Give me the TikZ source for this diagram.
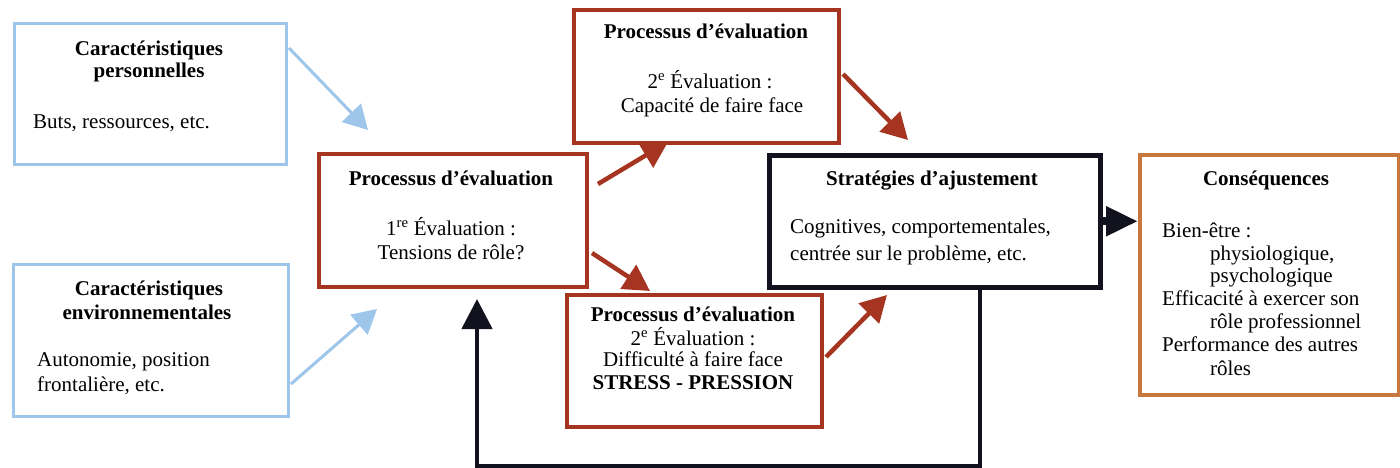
\documentclass[tikz,border=0pt]{standalone}
\usepackage{fontspec}
\setmainfont{Liberation Serif}
\usetikzlibrary{arrows.meta,calc}
\definecolor{boxblue}{RGB}{158,197,234}
\definecolor{boxred}{RGB}{165,52,32}
\definecolor{boxorange}{RGB}{200,120,62}
\definecolor{boxblack}{RGB}{18,18,30}

\begin{document}
\begin{tikzpicture}[x=1pt,y=-1pt,
  box/.style={rectangle, inner sep=0pt, anchor=north west},
  bluebox/.style={box, draw=boxblue, line width=3pt},
  redbox/.style={box, draw=boxred, line width=4pt},
  blackbox/.style={box, draw=boxblack, line width=4.5pt},
  orangebox/.style={box, draw=boxorange, line width=4pt},
  ttl/.style={font=\fontsize{21}{25}\selectfont\bfseries, anchor=base, inner sep=0pt},
  txt/.style={font=\fontsize{21}{25}\selectfont, anchor=base, inner sep=0pt},
  txtl/.style={txt, anchor=base west},
  bluearrow/.style={draw=boxblue, line width=3pt, -{Triangle[length=24pt,width=26pt]}},
  redarrow/.style={draw=boxred, line width=4.5pt, -{Triangle[length=26pt,width=28pt]}},
  blackarrow/.style={draw=boxblack, line width=4.5pt, -{Triangle[length=30pt,width=30pt]}},
]
\useasboundingbox (0,0) rectangle (1400,467);

% boxes
\node[bluebox, minimum width=272pt, minimum height=141pt] (pers) at (13,22) {};
\node[bluebox, minimum width=275pt, minimum height=152pt] (env) at (12,263) {};
\node[redbox, minimum width=268pt, minimum height=133pt] (eval1) at (317,152) {};
\node[redbox, minimum width=265pt, minimum height=133pt] (evalA) at (572,8) {};
\node[redbox, minimum width=255pt, minimum height=132pt] (evalB) at (565,293) {};
\node[blackbox, minimum width=331pt, minimum height=132pt] (strat) at (767,153) {};
\node[orangebox, minimum width=259pt, minimum height=240pt] (cons) at (1138,153) {};

% texts: personal characteristics
\node[ttl] (persT1) at (149,55) {Caractéristiques};
\node[ttl] (persT2) at (149,77) {personnelles};
\node[txtl] (persB) at (33,128) {Buts, ressources, etc.};

% environmental characteristics
\node[ttl] (envT1) at (149,295) {Caractéristiques};
\node[ttl] (envT2) at (147,319) {environnementales};
\node[txtl] (envB1) at (37,366) {Autonomie, position};
\node[txtl] (envB2) at (37,391) {frontalière, etc.};

% primary appraisal
\node[ttl] (e1T) at (451,185) {Processus d’évaluation};
\node[txt] (e1B1) at (451,235) {1\textsuperscript{re} Évaluation :};
\node[txt] (e1B2) at (451,259) {Tensions de rôle?};

% secondary appraisal, coping ability
\node[ttl] (eAT) at (706,38) {Processus d’évaluation};
\node[txt] (eAB1) at (710,88) {2\textsuperscript{e} Évaluation :};
\node[txt] (eAB2) at (712,112) {Capacité de faire face};

% secondary appraisal, difficulty
\node[ttl] (eBT) at (693,321) {Processus d’évaluation};
\node[txt] (eBB1) at (693,345) {2\textsuperscript{e} Évaluation :};
\node[txt] (eBB2) at (693,366) {Difficulté à faire face};
\node[ttl] (eBB3) at (693,389) {STRESS - PRESSION};

% coping strategies
\node[ttl] (sT) at (932,185) {Stratégies d’ajustement};
\node[txtl] (sB1) at (790,233) {Cognitives, comportementales,};
\node[txtl] (sB2) at (790,260) {centrée sur le problème, etc.};

% consequences
\node[ttl] (cT) at (1266,185) {Conséquences};
\node[txtl] (c1) at (1162,237) {Bien-être :};
\node[txtl] (c2) at (1210,260) {physiologique,};
\node[txtl] (c3) at (1210,282) {psychologique};
\node[txtl] (c4) at (1162,305) {Efficacité à exercer son};
\node[txtl] (c5) at (1210,328) {rôle professionnel};
\node[txtl] (c6) at (1162,351) {Performance des autres};
\node[txtl] (c7) at (1210,375) {rôles};

% arrow tips that stop short of their targets
\coordinate (tip1) at (368,130);
\coordinate (tip2) at (377,309);
\coordinate (tip3) at (668,142);
\coordinate (tip4) at (908,140);
\coordinate (tip5) at (650,291);
\coordinate (tip6) at (887,295);

% connectors
\draw[bluearrow] ($(pers.north east)+(1,26)$) -- (tip1);
\draw[bluearrow] ($(env.south east)+(1,-34)$) -- (tip2);
\draw[redarrow] ($(eval1.north east)+(9,32)$) -- (tip3);
\draw[redarrow] ($(evalA.north east)+(2,66)$) -- (tip4);
\draw[redarrow] ($(eval1.north east)+(3,101)$) -- (tip5);
\draw[redarrow] ($(evalB.north east)+(2,64)$) -- (tip6);
\draw[draw=boxblack, line width=8pt, -{Triangle[length=32pt,width=28pt]}] (strat.east) -- (strat.east -| cons.west);
\draw[blackarrow] ($(strat.south west)+(213,0)$) -- ++(0,177) -| ($(eval1.south west)+(160,10)$);
\end{tikzpicture}
\end{document}
